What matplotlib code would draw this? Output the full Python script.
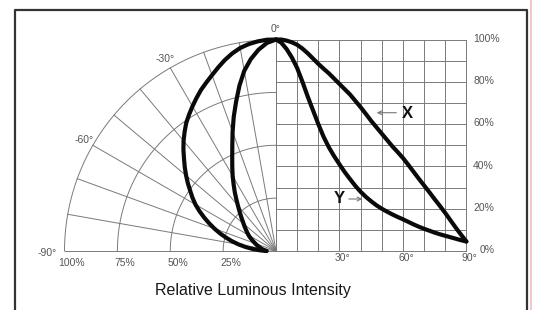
import numpy as np
import matplotlib
matplotlib.use('Agg')
import matplotlib.pyplot as plt

# radiation pattern (every 2.5 deg)
angle = [0, 2.5, 5, 7.5, 10, 12.5, 15, 17.5, 20, 22.5, 25, 27.5, 30, 32.5, 35, 37.5, 40, 42.5, 45,
         47.5, 50, 52.5, 55, 57.5, 60, 62.5, 65, 67.5, 70, 72.5, 75, 77.5, 80, 82.5, 85, 87.5, 90]
x_int = [100, 100, 99.5, 98.7, 97.5, 95.7, 93.5, 91, 88.5, 86.2, 84, 81.5, 79, 76.5, 74, 71, 68, 64.8, 61.5,
         58.5, 55.5, 52.5, 49.5, 46.8, 44, 40.8, 37.5, 34.2, 31, 27.8, 24.5, 21.3, 18, 14.5, 11, 7.7, 4.5]
y_int = [100, 98.5, 95.5, 91.5, 86.5, 80, 73, 66.5, 60, 54, 49, 44.8, 41, 37.3, 34, 30.8, 28, 25.6, 23.5,
         21.6, 20, 18.6, 17.3, 16.1, 15, 13.8, 12.6, 11.5, 10.5, 9.6, 8.7, 7.9, 7.2, 6.5, 5.8, 5.1, 4.5]

rings = [25, 50, 75, 100]
ring_labels = ['25%', '50%', '75%', '100%']
polar_ticks = [0, 30, 60, 90]
polar_labels = ['0°', '-30°', '-60°', '-90°']
deg_ticks = [30, 60, 90]
deg_labels = ['30°', '60°', '90°']
pct_ticks = [100, 80, 60, 40, 20, 0]
pct_labels = ['100%', '80%', '60%', '40%', '20%', '0%']

grid_c = '#7a7a7a'
lab_c = '#555555'
curve_c = '#0a0a0a'

fig = plt.figure(figsize=(5.33, 3.10), dpi=100)
ax = fig.add_axes([0, 0, 1, 1])
ax.set_xlim(-130.5, 121.5)
ax.set_ylim(-27.9, 118.7)
ax.axis('off')

# polar quarter (left)
t = np.radians(np.linspace(0, 90, 200))
for r in rings:
    ax.plot(-r * np.sin(t), r * np.cos(t), color=grid_c, lw=0.7)
for a in range(0, 91, 10):
    ar = np.radians(a)
    ax.plot([0, -100 * np.sin(ar)], [0, 100 * np.cos(ar)], color=grid_c, lw=0.7)
for r, lab in zip(rings, ring_labels):
    ax.text(-r + 3.5, -5.7, lab, ha='center', va='center', fontsize=7.5,
            color=lab_c, family='Liberation Sans')
for a, lab in zip(polar_ticks, polar_labels):
    ar = np.radians(a)
    rr = 105 if a < 90 else 108
    ax.text(-rr * np.sin(ar), rr * np.cos(ar) - (1 if a == 90 else 0), lab,
            ha='center', va='center', fontsize=7.5, color=lab_c, family='Liberation Sans')

# rectangular grid (right)
for g in range(0, 101, 10):
    ax.plot([0, 90], [g, g], color=grid_c, lw=0.7)
for g in range(0, 91, 10):
    ax.plot([g, g], [0, 100], color=grid_c, lw=0.7)
for d, lab in zip(deg_ticks, deg_labels):
    ax.text(d + 1.5, -3.3, lab, ha='center', va='center', fontsize=7.5,
            color=lab_c, family='Liberation Sans')
for p, lab in zip(pct_ticks, pct_labels):
    ax.text(93.2 if p > 0 else 96.5, p + 0.4, lab, ha='left', va='center', fontsize=7.5,
            color=lab_c, family='Liberation Sans')

# curves
ang = np.radians(angle)
for vals in (x_int, y_int):
    v = np.array(vals)
    ax.plot(angle, v, color=curve_c, lw=3.0, solid_capstyle='round', solid_joinstyle='round')
    ax.plot(-v * np.sin(ang), v * np.cos(ang), color=curve_c, lw=3.0,
            solid_capstyle='round', solid_joinstyle='round')

ax.text(62, 64.8, 'X', ha='center', va='center', fontsize=12, fontweight='bold',
        family='Liberation Sans', color='#111111')
ax.annotate('', xy=(46.3, 65.4), xytext=(58.2, 65.4),
            arrowprops=dict(arrowstyle='->', color='#777777', lw=0.8, mutation_scale=7))
ax.text(29.8, 24.6, 'Y', ha='center', va='center', fontsize=12, fontweight='bold',
        family='Liberation Sans', color='#111111')
ax.annotate('', xy=(42.1, 24.6), xytext=(33.1, 24.6),
            arrowprops=dict(arrowstyle='->', color='#777777', lw=0.8, mutation_scale=7))

ax.text(-10.9, -18.9, 'Relative Luminous Intensity', ha='center', va='center',
        fontsize=11.5, family='Liberation Sans', color='#1a1a1a')

# frame of the datasheet box
ax.plot([-123.4, -123.4, 118.7, 118.7], [-40, 113.9, 113.9, -40], color='#333333',
        lw=1.6, clip_on=False)
ax.plot([120.6, 120.6], [-40, 130], color='#f2bcbc', lw=1.2)

fig.savefig('out.png', dpi=100)
